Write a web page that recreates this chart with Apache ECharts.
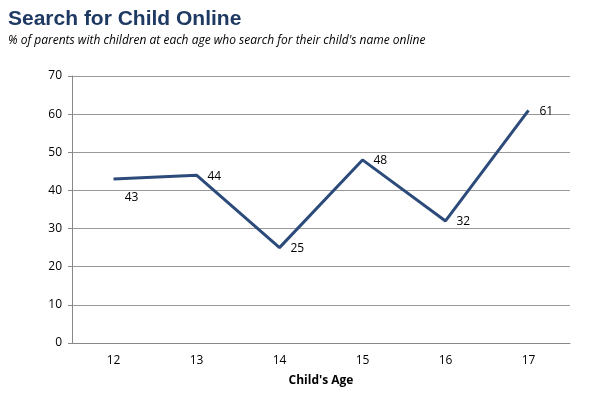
<!DOCTYPE html>
<html>
<head>
<meta charset="utf-8">
<script src="https://cdn.jsdelivr.net/npm/echarts@6/dist/echarts.min.js"></script>
<style>
  html, body { margin: 0; padding: 0; background: #fff; }
  #chart { width: 600px; height: 397px; }
</style>
</head>
<body>
<div id="chart"></div>
<script>
const ages = ['12', '13', '14', '15', '16', '17']
const searchPct = [43, 44, 25, 48, 32, 61]
const yTicks = { min: 0, max: 70, interval: 10 }

const chart = echarts.init(document.getElementById('chart'))
const font = '"Open Sans", "Liberation Sans", sans-serif'

chart.setOption({
  animation: false,
  title: {
    text: 'Search for Child Online',
    subtext: "% of parents with children at each age who search for their child's name online",
    left: 3,
    top: 4,
    itemGap: 5,
    textStyle: { fontFamily: 'Liberation Sans, Arial, sans-serif', fontSize: 21, fontWeight: 'bold', color: '#1e3a62' },
    subtextStyle: { fontFamily: font, fontSize: 12, fontStyle: 'italic', color: '#000' }
  },
  grid: { left: 72, right: 30, top: 76, bottom: 54 },
  xAxis: {
    type: 'category',
    data: ages,
    name: "Child's Age",
    nameLocation: 'middle',
    nameGap: 32,
    nameTextStyle: { fontFamily: font, fontSize: 12, fontWeight: 'bold', color: '#000' },
    axisLine: { lineStyle: { color: '#888', width: 1 } },
    axisTick: { show: false },
    axisLabel: { fontFamily: font, fontSize: 12, color: '#000', margin: 12 }
  },
  yAxis: {
    type: 'value',
    min: yTicks.min,
    max: yTicks.max,
    interval: yTicks.interval,
    axisLine: { show: true, lineStyle: { color: '#888', width: 1 } },
    axisTick: { show: true, length: 4, lineStyle: { color: '#888' } },
    axisLabel: { fontFamily: font, fontSize: 12, color: '#000', margin: 10 },
    splitLine: { lineStyle: { color: '#999', width: 1 } }
  },
  series: [{
    type: 'line',
    data: searchPct.map((v, i) => i === 0
      ? { value: v, label: { position: 'bottom', offset: [18, 2] } }
      : { value: v }),
    symbol: 'circle',
    symbolSize: 0,
    showSymbol: true,
    itemStyle: { color: '#2c4b7a' },
    lineStyle: { color: '#2c4b7a', width: 3 },
    label: {
      show: true,
      position: 'right',
      distance: 11,
      offset: [0, 1],
      fontFamily: font,
      fontSize: 12,
      color: '#000'
    }
  }]
})
</script>
</body>
</html>
